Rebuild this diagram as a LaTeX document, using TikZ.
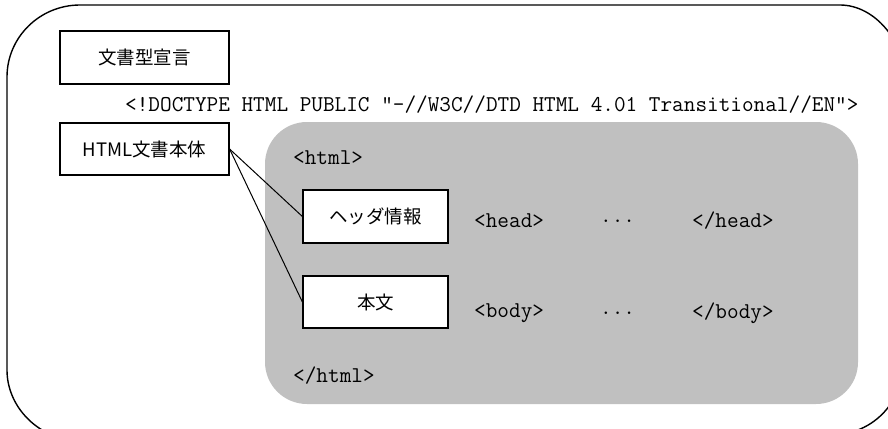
\documentclass[tikz,border=0pt]{standalone}
\usepackage{fontspec}
\newfontfamily\jp{Noto Sans CJK JP}
\definecolor{panelgray}{RGB}{192,192,192}
\begin{document}
\begin{tikzpicture}[x=1pt,y=-1pt,
  labelbox/.style={draw=black, line width=1.2pt, fill=white, inner sep=0pt,
    font=\jp\fontsize{18.5}{20}\selectfont},
  tag/.style={anchor=west, inner sep=0pt, font=\ttfamily\fontsize{22.6}{24}\selectfont},
  link/.style={draw=black, line width=1pt}]
\useasboundingbox (0,0) rectangle (888,428);
\clip (0,0) rectangle (888,428);

% outer frame
\draw[line width=1.4pt]
  (7,77) .. controls (7,37) and (40,5) .. (80,5)
  -- (840,5) .. controls (875,5) and (905,42) .. (905,80)
  -- (905,355) .. controls (905,400) and (875,435) .. (830,435)
  -- (70,440) .. controls (35,435) and (7,405) .. (7,370) -- cycle;

% shaded html panel
\fill[panelgray, rounded corners=42pt] (265,122) rectangle (858,404);

% labelled boxes
\node[labelbox, minimum width=169pt, minimum height=53pt] (decl) at (144.5,57.5) {文書型宣言};
\node[labelbox, minimum width=169pt, minimum height=52pt] (body) at (144.5,149) {HTML文書本体};
\node[labelbox, minimum width=145pt, minimum height=53pt] (head) at (375.5,216.5) {ヘッダ情報};
\node[labelbox, minimum width=145pt, minimum height=52pt] (main) at (375.5,302) {本文};

% connectors
\draw[link] (body.east) -- (head.west);
\draw[link] (body.east) -- (main.west);

% markup text
\node[tag] (doctype) at (125,105) {<!DOCTYPE HTML PUBLIC "-//W3C//DTD HTML 4.01 Transitional//EN">};
\node[tag] (htmlopen) at (293,158) {<html>};
\node[tag] (headopen) at (474,221) {<head>};
\node[tag] (headdots) at (600,221) {...};
\node[tag] (headclose) at (692,221) {</head>};
\node[tag] (bodyopen) at (474,313) {<body>};
\node[tag] (bodydots) at (600,313) {...};
\node[tag] (bodyclose) at (692,313) {</body>};
\node[tag] (htmlclose) at (293,376) {</html>};
\end{tikzpicture}
\end{document}
